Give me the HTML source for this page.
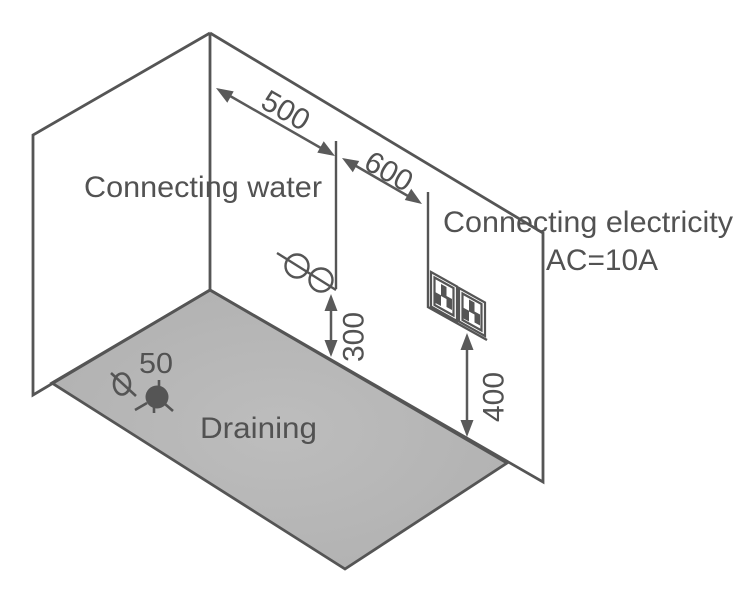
<!DOCTYPE html>
<html>
<head>
<meta charset="utf-8">
<style>
html,body{margin:0;padding:0;background:#fff;}
svg{display:block;}
text{font-family:"Liberation Sans",Arial,sans-serif;fill:#525252;}
</style>
</head>
<body>
<svg width="749" height="600" viewBox="0 0 749 600" xmlns="http://www.w3.org/2000/svg">
<defs>
<radialGradient id="fg" cx="0.5" cy="0.5" r="0.6">
<stop offset="0" stop-color="#bdbdbd"/>
<stop offset="1" stop-color="#b1b1b1"/>
</radialGradient>
</defs>
<rect width="749" height="600" fill="#fff"/>

<!-- floor -->
<polygon points="52,383 210,290 507,463 345,569" fill="url(#fg)" stroke="#555" stroke-width="2.8" stroke-linejoin="miter"/>

<!-- left wall -->
<polyline points="210,290 33,395 33,135 210,33" fill="none" stroke="#555" stroke-width="2.8"/>
<line x1="210" y1="33" x2="210" y2="290" stroke="#555" stroke-width="2.8"/>
<!-- right wall -->
<polyline points="210,33 543,233 543,482 210,290" fill="none" stroke="#555" stroke-width="2.8"/>

<!-- 500 dimension -->
<line x1="224" y1="92.5" x2="327" y2="151.5" stroke="#5a5a5a" stroke-width="2.5"/>
<polygon points="216,88 233.7,91.4 227.3,102.7" fill="#5a5a5a"/>
<polygon points="335,156 317.3,152.6 323.7,141.3" fill="#5a5a5a"/>
<text transform="translate(286,110) rotate(29.7)" x="0" y="10.5" font-size="30" text-anchor="middle">500</text>

<!-- 600 dimension -->
<line x1="350" y1="162.5" x2="414" y2="199.5" stroke="#5a5a5a" stroke-width="2.5"/>
<polygon points="342,158 352.8,172.3 359.2,161.0" fill="#5a5a5a"/>
<polygon points="422,204 404.8,200.0 411.2,188.7" fill="#5a5a5a"/>
<text transform="translate(389,171) rotate(29.9)" x="0" y="10.5" font-size="30" text-anchor="middle">600</text>

<!-- water line and valve -->
<line x1="336" y1="141" x2="336" y2="289" stroke="#555" stroke-width="2.4"/>
<line x1="277" y1="253" x2="336" y2="290" stroke="#555" stroke-width="2.4"/>
<circle cx="297" cy="266" r="11.5" fill="none" stroke="#555" stroke-width="2.4"/>
<circle cx="321" cy="280" r="11.5" fill="none" stroke="#555" stroke-width="2.4"/>

<!-- 300 dimension -->
<line x1="331" y1="302" x2="331" y2="349" stroke="#5a5a5a" stroke-width="2.5"/>
<polygon points="331,294 324.5,311 337.5,311" fill="#5a5a5a"/>
<polygon points="331,357 324.5,340 337.5,340" fill="#5a5a5a"/>
<text transform="translate(353,337) rotate(-90)" x="0" y="10.5" font-size="30" text-anchor="middle">300</text>

<!-- electricity line and sockets -->
<polyline points="428,192 428,307 487,340" fill="none" stroke="#555" stroke-width="2.4"/>
<g fill="none" stroke="#555" stroke-width="2.2">
<polygon points="431,272 457,286.5 457,321 431,306.5"/>
<polygon points="434.5,277.5 453.5,288 453.5,315.5 434.5,305"/>
<polygon points="459,288 485,302.5 485,336 459,321.5"/>
<polygon points="462.5,293.5 481.5,304 481.5,330.5 462.5,320"/>
</g>
<g fill="#555">
<polygon points="435,292 441,295.3 441,306 435,302.7"/>
<polygon points="441,284 446.5,287 446.5,299 441,296"/>
<polygon points="446.5,296 452,299 452,310 446.5,307"/>
<polygon points="463,307.5 469,310.8 469,321.5 463,318.2"/>
<polygon points="469,299.5 474.5,302.5 474.5,314.5 469,311.5"/>
<polygon points="474.5,311.5 480,314.5 480,325.5 474.5,322.5"/>
</g>

<!-- 400 dimension -->
<line x1="467" y1="341" x2="467" y2="429" stroke="#5a5a5a" stroke-width="2.5"/>
<polygon points="467,333 460.5,350 473.5,350" fill="#5a5a5a"/>
<polygon points="467,437 460.5,420 473.5,420" fill="#5a5a5a"/>
<text transform="translate(493,397) rotate(-90)" x="0" y="10.5" font-size="30" text-anchor="middle">400</text>

<!-- drain -->
<ellipse cx="122" cy="384" rx="8" ry="10.5" fill="none" stroke="#555" stroke-width="2.6"/>
<line x1="111" y1="373" x2="136" y2="396" stroke="#555" stroke-width="2.6"/>
<circle cx="157" cy="397" r="11.5" fill="#555"/>
<g stroke="#555" stroke-width="2.6">
<line x1="159" y1="380" x2="159" y2="387"/>
<line x1="154" y1="406" x2="154" y2="413"/>
<line x1="135" y1="410" x2="147" y2="403"/>
<line x1="165" y1="404" x2="173" y2="411"/>
</g>
<text x="139" y="373" font-size="29" textLength="34" lengthAdjust="spacingAndGlyphs">50</text>

<!-- labels -->
<text x="84" y="197" font-size="29.5" textLength="238" lengthAdjust="spacingAndGlyphs">Connecting water</text>
<text x="443" y="232" font-size="29.5" textLength="290" lengthAdjust="spacingAndGlyphs">Connecting electricity</text>
<text x="546" y="270" font-size="29.5" textLength="112" lengthAdjust="spacingAndGlyphs">AC=10A</text>
<text x="200" y="438" font-size="30" textLength="117" lengthAdjust="spacingAndGlyphs">Draining</text>
</svg>
</body>
</html>
